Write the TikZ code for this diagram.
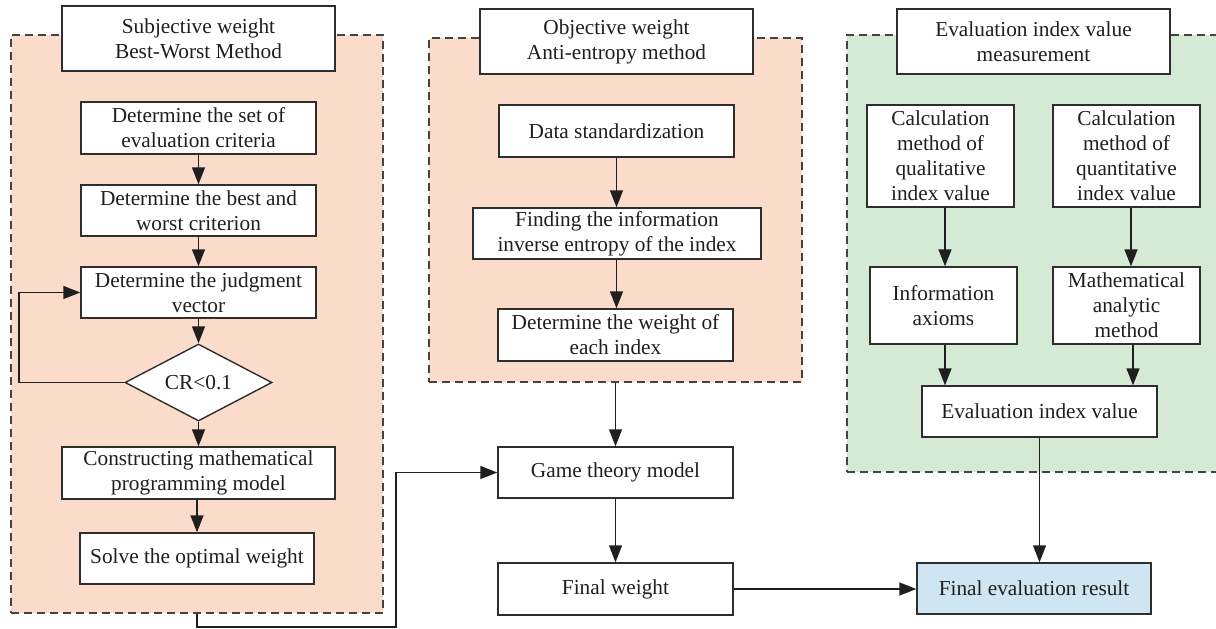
\documentclass[tikz,border=0pt]{standalone}
\usepackage{fontspec}
\setmainfont{Liberation Serif}
\usetikzlibrary{shapes.geometric,arrows.meta}
\definecolor{salmon}{HTML}{FBDCCA}
\definecolor{mint}{HTML}{D4EAD5}
\definecolor{skyb}{HTML}{CFE5F2}
\definecolor{edge}{HTML}{2E2E2E}
\begin{document}
\begin{tikzpicture}[x=1pt,y=-1pt,
  box/.style={draw=edge, line width=1.4pt, fill=white, align=center, inner sep=0pt,
    font=\fontsize{21.3}{25}\selectfont, text=black!88},
  panel/.style={draw=edge!90, line width=1.4pt, dash pattern=on 8pt off 5pt, inner sep=0pt},
  arr/.style={draw=black!88, line width=1.4pt, -{Triangle[length=17pt,width=13pt]}}]
\useasboundingbox (0,0) rectangle (1216,629);
% panels
\node[panel, fill=salmon, minimum width=372, minimum height=578] (lp) at (197,324) {};
\node[panel, fill=mint, minimum width=383, minimum height=437] (rp) at (1038.5,253.5) {};
\node[panel, fill=salmon, minimum width=373, minimum height=344] (mp) at (615.5,210) {};
% left column
\node[box, minimum width=273, minimum height=65] (t1) at (198.5,38.5) {Subjective weight\\Best-Worst Method};
\node[box, minimum width=235, minimum height=52] (b1) at (198.5,128) {Determine the set of\\evaluation criteria};
\node[box, minimum width=235, minimum height=51] (b2) at (198.5,210.5) {Determine the best and\\worst criterion};
\node[box, minimum width=235, minimum height=51] (b3) at (198.5,292.5) {Determine the judgment\\vector};
\node[box, diamond, aspect=1.91, minimum width=147, minimum height=77] (d) at (198.5,382.5) {CR<0.1};
\node[box, minimum width=273, minimum height=52] (b4) at (198.5,473) {Constructing mathematical\\programming model};
\node[box, minimum width=234, minimum height=51] (b5) at (197,558.5) {Solve the optimal weight};
% middle column
\node[box, minimum width=273, minimum height=65] (t2) at (616.5,41.5) {Objective weight\\Anti-entropy method};
\node[box, minimum width=235, minimum height=52] (m1) at (616.5,131) {Data standardization};
\node[box, minimum width=288, minimum height=51] (m2) at (617,233.5) {Finding the information\\inverse entropy of the index};
\node[box, minimum width=235, minimum height=52] (m3) at (615.5,335) {Determine the weight of\\each index};
\node[box, minimum width=235, minimum height=51] (gt) at (615.5,472.5) {Game theory model};
\node[box, minimum width=235, minimum height=52] (fw) at (615.5,589) {Final weight};
% right column
\node[box, minimum width=273, minimum height=65] (t3) at (1033.5,41.5) {Evaluation index value\\measurement};
\node[box, minimum width=147, minimum height=102] (q1) at (940.5,156) {Calculation\\method of\\qualitative\\index value};
\node[box, minimum width=147, minimum height=102] (q2) at (1126.5,156) {Calculation\\method of\\quantitative\\index value};
\node[box, minimum width=147, minimum height=77] (ia) at (943.5,305.5) {Information\\axioms};
\node[box, minimum width=147, minimum height=77] (ma) at (1126.5,305.5) {Mathematical\\analytic\\method};
\node[box, minimum width=235, minimum height=51] (eiv) at (1039.5,411.5) {Evaluation index value};
\node[box, fill=skyb, minimum width=234, minimum height=51] (fe) at (1034,588.5) {Final evaluation result};
% connectors left
\draw[arr] (b1.south) -- (b2.north);
\draw[arr] (b2.south) -- (b3.north);
\draw[arr] (b3.south) -- (d.north);
\draw[arr] (d.south) -- (b4.north);
\draw[arr] (b4.south -| b5.north) -- (b5.north);
\coordinate (fb) at (19,340);
\draw[arr] (d.west) -| (fb) |- (b3.west);
\coordinate (c1) at (396,627);
\draw[arr] (lp.south) |- (c1) |- (gt.west);
% middle
\draw[arr] (m1.south) -- (m1.south |- m2.north);
\draw[arr] (m2.south -| m1.south) -- (m1.south |- m3.north);
\draw[arr] (mp.south) -- (mp.south |- gt.north);
\draw[arr] (gt.south) -- (fw.north);
\draw[arr] (fw.east) -- (fw.east -| fe.west);
% right
\draw[arr] ([xshift=4.5pt]q1.south) -- ([xshift=4.5pt]q1.south |- ia.north);
\draw[arr] ([xshift=4.5pt]q2.south) -- ([xshift=4.5pt]q2.south |- ma.north);
\draw[arr] ([xshift=1.5pt]ia.south) -- ([xshift=1.5pt]ia.south |- eiv.north);
\draw[arr] ([xshift=6.5pt]ma.south) -- ([xshift=6.5pt]ma.south |- eiv.north);
\draw[arr] (eiv.south) -- (eiv.south |- fe.north);
\end{tikzpicture}
\end{document}
